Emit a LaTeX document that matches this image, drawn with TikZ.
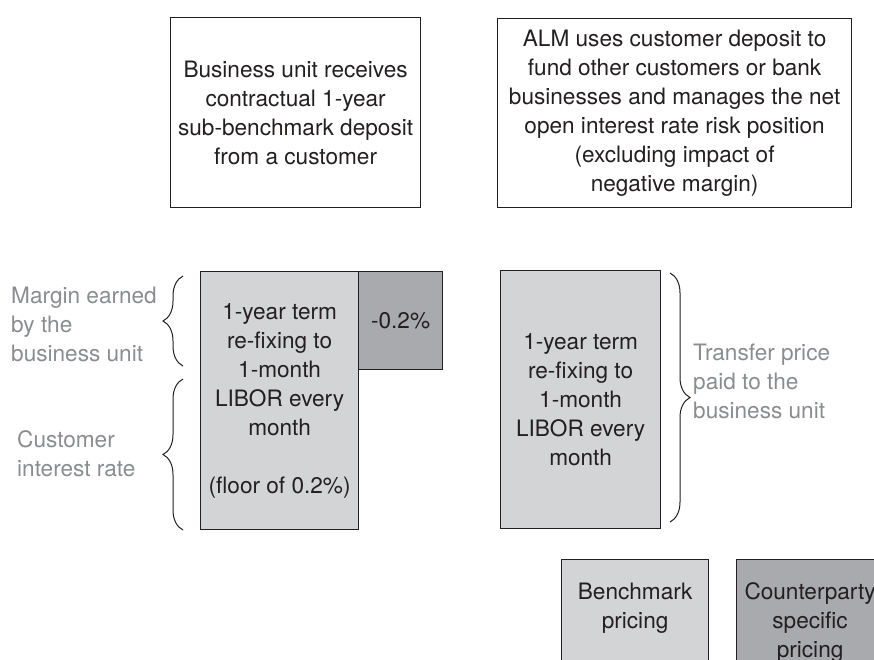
\documentclass[tikz,border=0pt]{standalone}
\usepackage{fontspec}
\setmainfont{TeX Gyre Heros}
\usepackage{xcolor}
\usepackage{tikz}
\usetikzlibrary{decorations.pathreplacing}

\definecolor{ink}{HTML}{231F20}
\definecolor{lightfill}{HTML}{D3D4D6}
\definecolor{darkfill}{HTML}{A8AAAD}
\definecolor{labelgray}{HTML}{8A8C8F}

\begin{document}
\begin{tikzpicture}[x=1pt,y=1pt]
			\tikzstyle{textbox} = [draw=ink, line width=1.2pt, align=center, inner sep=0pt, text=ink, font=\fontsize{22.6}{29}\selectfont]
			\tikzstyle{termbox} = [textbox, fill=lightfill]
			\tikzstyle{negbox} = [textbox, fill=darkfill]
			\tikzstyle{keybox} = [draw=ink, line width=1.2pt, anchor=north west, minimum width=147, minimum height=120]
			\tikzstyle{side} = [anchor=west, align=left, inner sep=0pt, text=labelgray, font=\fontsize{22.6}{29}\selectfont]
			\tikzset{brace/.style = {draw=ink, line width=1pt, decorate, decoration={brace, amplitude=20pt}}}
			
			\useasboundingbox (0,0) rectangle (874,-659);
			
			\node[textbox, anchor=north west, minimum width=250, minimum height=190](unit) at (170,-17) {Business unit receives\\contractual 1-year\\sub-benchmark deposit\\from a customer};
			\node[textbox, anchor=north west, minimum width=354, minimum height=189](alm) at (497,-18) {ALM uses customer deposit to\\fund other customers or bank\\businesses and manages the net\\open interest rate risk position\\(excluding impact of\\negative margin)};
			
			\node[termbox, anchor=north west, minimum width=158, minimum height=258](custrate) at (200,-271) {1-year term\\re-fixing to\\1-month\\LIBOR every\\month\\[29pt](floor of 0.2\%)};
			\node[negbox, anchor=north west, minimum width=84, minimum height=98](margin) at (358,-271) {-0.2\%};
			\node[termbox, anchor=north west, minimum width=160, minimum height=258](transfer) at (500,-270) {1-year term\\re-fixing to\\1-month\\LIBOR every\\month};
			
			\node[side](marginlabel) at (11,-324) {Margin earned\\by the\\business unit};
			\node[side](custlabel) at (17,-454) {Customer\\interest rate};
			\node[side](transferlabel) at (693,-381) {Transfer price\\paid to the\\business unit};
			
			\draw[brace] (183,-366) -- (183,-276);
			\draw[brace] (183,-530) -- (183,-379);
			\draw[brace] (670,-273) -- (670,-522);
			
			\node[keybox, fill=lightfill](bench) at (561,-559) {};
			\node[keybox, fill=darkfill](cpty) at (736,-559) {};
			\node[textbox, draw=none, anchor=north](benchtext) at ([yshift=-23pt]bench.north) {Benchmark\\pricing};
			\node[textbox, draw=none, anchor=north](cptytext) at ([yshift=-23pt]cpty.north) {Counterparty\\specific\\pricing};
			
\end{tikzpicture}
\end{document}
